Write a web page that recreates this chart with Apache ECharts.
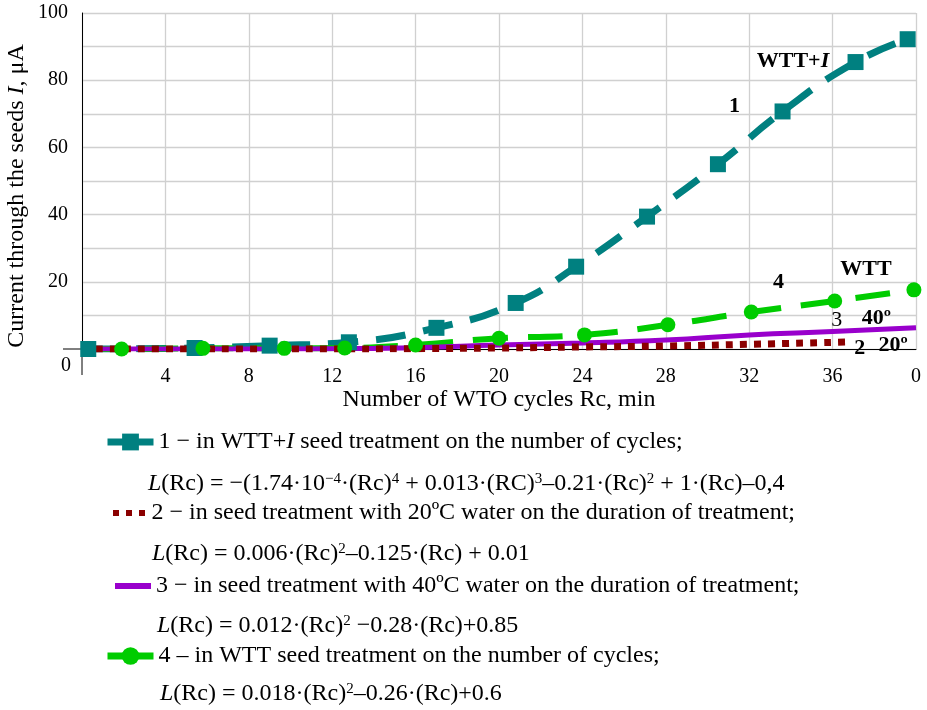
<!DOCTYPE html>
<html><head><meta charset="utf-8">
<script src="https://cdn.jsdelivr.net/npm/echarts@6/dist/echarts.min.js"></script>
<style>html,body{margin:0;padding:0;background:#fff}#c{width:927px;height:710px}</style>
</head><body><div id="c"></div>
<script>
// ---- data ----
const s1X = [0.3, 5.4, 9.0, 12.8, 17.0, 20.8, 23.7, 27.1, 30.5, 33.6, 37.1, 39.6];
const s1Y = [0.0, 0.3, 1.0, 2.0, 6.3, 13.7, 24.5, 39.4, 55.0, 70.7, 85.4, 92.2];
const s2X = [0, 4, 8, 12, 16, 20, 24, 28, 32, 36.8];
const s2Y = [0, 0, 0, 0, 0.1, 0.3, 0.6, 0.9, 1.4, 2.1];
const s3X = [0, 4, 8, 12, 16, 20, 24, 28, 32, 36, 40];
const s3Y = [0, 0, 0, 0.1, 0.4, 1.2, 1.8, 2.7, 4.2, 5.2, 6.3];
const s4X = [0.3, 1.9, 5.8, 9.7, 12.6, 16.0, 20.0, 24.1, 28.1, 32.1, 36.1, 39.9];
const s4Y = [0, 0, 0.2, 0.2, 0.3, 1.2, 3.2, 4.2, 7.2, 11.0, 14.3, 17.6];
const xTickLabels = {0: '', 40: '0'};
const legendTexts = {
  s1: '1 − in WTT+{i|I} seed treatment on the number of cycles;',
  s2: '2 − in seed treatment with 20ºC water on the duration of treatment;',
  s3: '3 − in seed treatment with 40ºC water on the duration of treatment;',
  s4: '4 – in WTT seed treatment on the number of cycles;'
};
const formulas = [
  '{i|L}(Rc) = −(1.74·10{sup|−4}·(Rc){sup|4} + 0.013·(RC){sup|3}–0.21·(Rc){sup|2} + 1·(Rc)–0,4',
  '{i|L}(Rc) = 0.006·(Rc){sup|2}–0.125·(Rc) + 0.01',
  '{i|L}(Rc) = 0.012·(Rc){sup|2} −0.28·(Rc)+0.85',
  '{i|L}(Rc) = 0.018·(Rc){sup|2}–0.26·(Rc)+0.6'
];
const annotations1 = [{coord: [34.1, 85.7], text: 'WTT+{bi|I}'}, {coord: [31.3, 72.2], text: '1'}];
const annotations4 = [{coord: [37.6, 23.6], text: 'WTT'}, {coord: [33.4, 19.7], text: '4'}];
const annotations3 = [{coord: [36.2, 8.7], text: '{n|3}'}, {coord: [38.1, 9.2], text: '40º'}];
const annotations2 = [{coord: [37.3, 0.3], text: '2'}, {coord: [38.9, 1.2], text: '20º'}];

const FONT = '"Liberation Serif", "Times New Roman", serif';
const FS = 24;
const zip = (xs, ys) => xs.map((x, i) => [x, ys[i]]);
const mp = (arr) => ({
  symbol: 'circle', symbolSize: 1, itemStyle: {color: 'rgba(0,0,0,0)'},
  label: {show: true, position: 'inside', fontFamily: FONT, fontSize: 22, fontWeight: 'bold', color: '#000',
    formatter: p => p.data.text,
    rich: {bi: {fontFamily: FONT, fontSize: 22, fontWeight: 'bold', fontStyle: 'italic', color: '#000'},
           n: {fontFamily: FONT, fontSize: 22, fontWeight: 'normal', color: '#000'}}},
  data: arr.map(a => ({coord: a.coord, text: a.text}))
});
const richText = {
  i: {fontFamily: FONT, fontSize: FS, fontStyle: 'italic', color: '#000'},
  sup: {fontFamily: FONT, fontSize: 15, color: '#000', verticalAlign: 'top', lineHeight: 16}
};
const legendBase = (item, left, topPx, w, h) => ({
  data: [item], left: left, top: topPx, padding: 0, itemWidth: w, itemHeight: h, itemGap: 0,
  selectedMode: false,
  lineStyle: {width: 7, type: 'solid'},
  formatter: n => legendTexts[n],
  textStyle: {fontFamily: FONT, fontSize: FS, lineHeight: 26, color: '#000', rich: richText}
});

const chart = echarts.init(document.getElementById('c'));
chart.setOption({
  animation: false,
  backgroundColor: '#fff',
  grid: {left: 82, right: 11, top: 13, bottom: 361, containLabel: false},
  xAxis: {
    type: 'value', min: 0, max: 40, interval: 4,
    axisLine: {show: true, lineStyle: {color: '#000', width: 1}},
    axisTick: {show: false},
    splitLine: {show: true, lineStyle: {color: '#d0d0d0', width: 1.3}},
    axisLabel: {fontFamily: FONT, fontSize: 20, color: '#000', margin: 18,
      formatter: v => (v in xTickLabels ? xTickLabels[v] : String(v))},
    name: 'Number of WTO cycles Rc, min', nameLocation: 'middle', nameGap: 39,
    nameTextStyle: {fontFamily: FONT, fontSize: FS, color: '#000'}
  },
  yAxis: {
    type: 'value', min: 0, max: 100, interval: 10,
    axisLine: {show: true, lineStyle: {color: '#000', width: 1}},
    axisTick: {show: false},
    splitLine: {show: true, lineStyle: {color: '#d0d0d0', width: 1.3}},
    axisLabel: {fontFamily: FONT, fontSize: 20, color: '#000', margin: 14,
      formatter: v => (v % 20 === 0 && v !== 0 ? String(v) : '')}
  },
  legend: [
    legendBase({name: 's1'}, 104, 429, 46, 21),
    legendBase({name: 's2', icon: 'path://M0,0h6v6h-6z M13,0h6v6h-6z M26,0h6v6h-6z'}, 113, 500, 35, 6),
    legendBase({name: 's3', icon: 'rect'}, 115, 573, 36, 6),
    legendBase({name: 's4'}, 104, 643, 46, 22)
  ],
  series: [
    {name: 's1', type: 'line', smooth: true, data: zip(s1X, s1Y), symbol: 'rect', symbolSize: 16,
      color: '#008080', lineStyle: {color: '#008080', width: 7, type: [30, 18]}, itemStyle: {color: '#008080'},
      markPoint: mp(annotations1)},
    {name: 's4', type: 'line', smooth: true,
      data: zip(s4X, s4Y).map((p, i) => (i === 0 ? {value: p, symbol: 'none'} : p)),
      symbol: 'circle', symbolSize: 15,
      color: '#00cc00', lineStyle: {color: '#00cc00', width: 6, type: [35, 20]}, itemStyle: {color: '#00cc00'},
      markPoint: mp(annotations4)},
    {name: 's3', type: 'line', smooth: true, data: zip(s3X, s3Y), symbol: 'none',
      color: '#9900cc', lineStyle: {color: '#9900cc', width: 5}, itemStyle: {color: '#9900cc'},
      markPoint: mp(annotations3)},
    {name: 's2', type: 'line', smooth: true, data: zip(s2X, s2Y), symbol: 'none',
      color: '#8b0000', lineStyle: {color: '#8b0000', width: 7, type: [7, 7]}, itemStyle: {color: '#8b0000'},
      markPoint: mp(annotations2)}
  ]
});

// extra decorations placed from the axes' own scale
const origin = chart.convertToPixel({xAxisIndex: 0, yAxisIndex: 0}, [0, 0]);
const topPt = chart.convertToPixel({xAxisIndex: 0, yAxisIndex: 0}, [0, 100]);
const formulaPos = [[148, 484], [152, 554], [157, 626], [160, 694]];
chart.setOption({
  graphic: [
    {type: 'line', shape: {x1: origin[0], y1: origin[1], x2: origin[0], y2: origin[1] + 26}, style: {stroke: '#000', lineWidth: 1}},
    {type: 'line', shape: {x1: origin[0] - 19, y1: origin[1], x2: origin[0], y2: origin[1]}, style: {stroke: '#000', lineWidth: 1}},
    {type: 'text', x: origin[0] - 16, y: origin[1] + 17, style: {text: '0', font: '20px ' + FONT, fill: '#000', align: 'center', verticalAlign: 'middle'}},
    {type: 'text', x: 17, y: (origin[1] + topPt[1]) / 2 + 15, rotation: Math.PI / 2,
      style: {text: 'Current through the seeds {i|I}, μA', font: FS + 'px ' + FONT, fill: '#000', align: 'center', verticalAlign: 'middle', rich: richText}},
  ].concat(formulas.map((f, i) => ({
    type: 'text', x: formulaPos[i][0], y: formulaPos[i][1],
    style: {text: f, font: FS + 'px ' + FONT, fill: '#000', align: 'left', verticalAlign: 'middle', rich: richText}
  })))
});
</script></body></html>
